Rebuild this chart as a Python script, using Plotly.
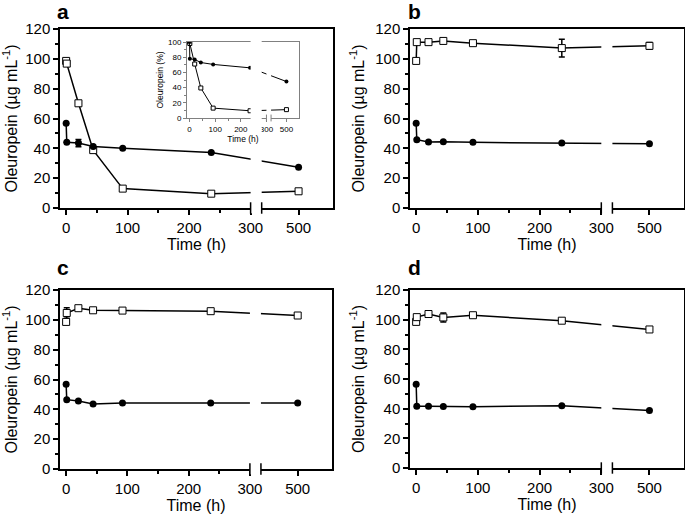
import plotly.graph_objects as go

# sampling times (h)
time_h = [0, 1, 20, 44, 92, 236, 500]

# panel a, oleuropein (ug/mL)
a_filled = [56.8, 44.0, 43.5, 41.3, 40.0, 37.2, 27.3]
a_filled_err = [None, None, 2.5, None, None, None, None]
a_open = [98.6, 96.8, 70.2, 38.8, 13.0, 9.6, 11.2]

# panel a inset, % of initial
inset_filled = [100, 78, 77, 73, 70.5, 66, 48]
inset_open = [100, 98, 71, 39.5, 13, 9.5, 11]

b_filled = [56.8, 45.8, 44.2, 44.4, 44.0, 43.5, 43.1]
b_open = [98.6, 111.2, 111.2, 112.0, 110.5, 107.2, 108.7]
b_open_err = [None, None, None, None, None, 6.0, 2.3]

c_filled = [56.8, 46.5, 45.6, 43.6, 44.2, 44.2, 44.2]
c_open = [98.6, 104.6, 107.8, 106.4, 106.2, 105.8, 102.9]
c_open_err = [None, 3.5, None, None, None, None, None]

d_filled = [56.5, 41.7, 41.7, 41.5, 41.3, 42.0, 38.8]
d_open = [98.5, 101.7, 103.8, 101.5, 103.0, 99.3, 93.4]
d_open_err = [None, None, None, 3.0, None, None, None]

x_ticks = [0, 100, 200, 300, 500]

# broken time axis: everything past 300 h is shifted left
BREAK_AT = 300
SHIFT = 122
GAP = 18


def bx(t):
    return t if t <= BREAK_AT else t - SHIFT


FONT = "Arial, Liberation Sans, sans-serif"
W, H = 685, 516


def px_dom(x0, x1, y0, y1):
    return [x0 / W, x1 / W], [1 - y1 / H, 1 - y0 / H]


fig = go.Figure()


def add_series(n, filled, open_, f_err=None, o_err=None, msize=7, lw=1.5):
    xs = [bx(t) for t in time_h]
    ax = dict(xaxis="x" if n == 1 else f"x{n}", yaxis="y" if n == 1 else f"y{n}")
    err = lambda e: dict(type="data", array=e, visible=True, color="black",
                         thickness=lw, width=3) if e else None
    fig.add_trace(go.Scatter(x=xs, y=open_, mode="lines+markers", **ax,
                             line=dict(color="black", width=lw),
                             marker=dict(symbol="square", size=msize, color="white",
                                         line=dict(color="black", width=1)),
                             error_y=err(o_err), showlegend=False))
    fig.add_trace(go.Scatter(x=xs, y=filled, mode="lines+markers", **ax,
                             line=dict(color="black", width=lw),
                             marker=dict(symbol="circle", size=msize, color="black"),
                             error_y=err(f_err), showlegend=False))


def style_axes(n, xdom, ydom, yrange, ytitle, xrange_, tick_size, title_size,
               line_color="black", lw=1.5, ticklen=5, ystand=7, xstand=0, dy=20):
    sx = "" if n == 1 else str(n)
    fig.layout[f"xaxis{sx}"] = dict(
        domain=xdom, anchor=f"y{sx}", range=xrange_,
        tickmode="array", tickvals=[bx(v) for v in x_ticks],
        ticktext=[str(v) for v in x_ticks],
        ticks="outside", ticklen=ticklen, tickwidth=lw, tickcolor=line_color,
        minor=dict(tickvals=[50, 150, 250], ticks="outside", ticklen=ticklen * 0.6,
                   tickwidth=lw, tickcolor=line_color),
        showline=True, linecolor=line_color, linewidth=lw, mirror=True,
        showgrid=False, zeroline=False, automargin=False,
        tickfont=dict(size=tick_size, color="black", family=FONT),
        title=dict(text="Time (h)", standoff=xstand,
                   font=dict(size=title_size, color="black", family=FONT)))
    fig.layout[f"yaxis{sx}"] = dict(
        domain=ydom, anchor=f"x{sx}", range=yrange, dtick=dy, tick0=0,
        ticks="outside", ticklen=ticklen, tickwidth=lw, tickcolor=line_color,
        minor=dict(dtick=dy / 2, ticks="outside", ticklen=ticklen * 0.6,
                   tickwidth=lw, tickcolor=line_color),
        showline=True, linecolor=line_color, linewidth=lw, mirror=True,
        showgrid=False, zeroline=False, automargin=False,
        tickfont=dict(size=tick_size, color="black", family=FONT),
        title=dict(text=ytitle, standoff=ystand,
                   font=dict(size=title_size, color="black", family=FONT)))
    # axis break: blank strip plus two bars on the time axis
    fig.add_shape(type="rect", xref=f"x{sx}", yref=f"y{sx} domain",
                  x0=BREAK_AT, x1=BREAK_AT + GAP, y0=-0.03, y1=0.99,
                  fillcolor="white", line=dict(width=0), layer="above")
    bar = 0.032 if n < 5 else 0.045
    for xb in (BREAK_AT, BREAK_AT + GAP):
        fig.add_shape(type="line", xref=f"x{sx}", yref=f"y{sx} domain",
                      x0=xb, x1=xb, y0=-bar, y1=bar, layer="above",
                      line=dict(color=line_color, width=lw))


YT = "Oleuropein (µg mL<sup>-1</sup>)"
panels = [
    (1, px_dom(60, 333, 29, 208), a_filled, a_open, a_filled_err, None),
    (2, px_dom(410, 684, 29, 208), b_filled, b_open, None, b_open_err),
    (3, px_dom(60, 332, 290, 469), c_filled, c_open, None, c_open_err),
    (4, px_dom(410, 684, 290, 468), d_filled, d_open, None, d_open_err),
]
for n, (xd, yd), f, o, fe, oe in panels:
    add_series(n, f, o, fe, oe)
    style_axes(n, xd, yd, [0, 120], YT, [-10, 434], 15, 16)

# inset in panel a
add_series(5, inset_filled, inset_open, msize=4, lw=1)
xd, yd = px_dom(187, 299, 42, 118)
style_axes(5, xd, yd, [0, 100], "Oleuropein (%)", [-10, 427], 8, 8.5,
           line_color="#808080", lw=1, ticklen=3, ystand=3, xstand=1)

for letter, x, y in [("a", 55, 11), ("b", 406, 11), ("c", 55, 267), ("d", 406, 267)]:
    fig.add_annotation(text=f"<b>{letter}</b>", xref="paper", yref="paper",
                       x=x / W, y=1 - y / H, xanchor="left", yanchor="middle",
                       showarrow=False, font=dict(size=21, color="black", family=FONT))

fig.update_layout(width=W, height=H, margin=dict(l=0, r=0, t=0, b=0),
                  paper_bgcolor="white", plot_bgcolor="white",
                  font=dict(family=FONT, color="black"))

# drop the page's default body margin so the figure sits at the window corner
fig.write_html("out.html", config={"displayModeBar": False},
               post_script="document.body.style.margin='0';"
                           "document.body.style.overflow='hidden';")
